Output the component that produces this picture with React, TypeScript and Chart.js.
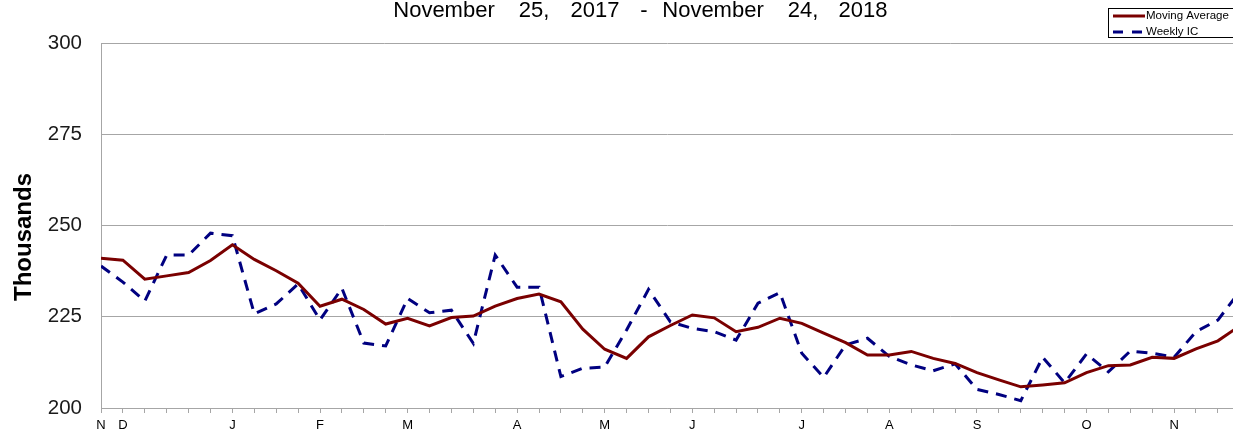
import React, { useEffect, useRef } from "react";
import { Chart, registerables } from "chart.js";

Chart.register(...registerables);

const titleWords = ["November", "25,", "2017", "-", "November", "24,", "2018"];
const yAxisTitle = "Thousands";
const seriesNames = ["Moving Average", "Weekly IC"];

// 53 weeks, Nov 25 2017 .. Nov 24 2018; month initials at the first week of each month
const weekLabels = [
  "N", "D", "", "", "", "", "J", "", "", "", "F", "", "", "", "M", "", "", "", "", "A",
  "", "", "", "M", "", "", "", "J", "", "", "", "", "J", "", "", "", "A", "", "", "",
  "S", "", "", "", "", "O", "", "", "", "N", "", "", "",
];

const movingAverage = [
  241.0, 240.5, 235.3, 236.2, 237.1, 240.4, 244.7, 240.7, 237.6, 234.2,
  227.9, 229.8, 227.0, 223.0, 224.6, 222.5, 224.8, 225.2, 227.9, 230.0,
  231.2, 229.1, 221.6, 216.1, 213.6, 219.5, 222.6, 225.5, 224.7, 220.9,
  222.1, 224.6, 223.2, 220.5, 217.9, 214.5, 214.5, 215.5, 213.6, 212.2,
  209.7, 207.7, 205.8, 206.3, 206.9, 209.7, 211.6, 211.8, 213.9, 213.6,
  216.2, 218.4, 222.5,
];

const weeklyIC = [
  238.9, 234.5, 229.3, 241.9, 241.9, 247.9, 247.2, 225.8, 228.5, 234.0,
  224.1, 232.8, 217.8, 217.0, 230.0, 226.1, 226.8, 217.7, 241.9, 233.1,
  233.1, 208.6, 210.9, 211.2, 221.4, 232.5, 223.6, 221.8, 220.9, 218.6,
  228.7, 231.6, 215.0, 208.4, 217.3, 219.1, 214.1, 211.8, 210.2, 212.1,
  205.1, 203.7, 202.0, 213.9, 206.9, 214.8, 209.9, 215.6, 215.0, 213.9,
  220.9, 224.1, 232.0,
];

const yMin = 200;
const yMax = 300;
const yStep = 25;

const W = 1233;
const H = 432;
const FONT = '"Liberation Sans", Arial, sans-serif';
const MA_COLOR = "#7a0000";
const IC_COLOR = "#000080";
const GRID = "#a6a6a6";
// horizontal centres of the title words (text layout)
const TITLE_X = [444, 534, 595, 644, 713, 803, 863];

const overlayPlugin = {
  id: "overlay",
  afterDraw(chart: any) {
    const ctx = chart.ctx as CanvasRenderingContext2D;
    ctx.save();
    ctx.font = `22px ${FONT}`;
    ctx.fillStyle = "#000";
    ctx.textBaseline = "alphabetic";
    ctx.textAlign = "center";
    titleWords.forEach((w, i) => ctx.fillText(w, TITLE_X[i], 17));

    ctx.save();
    ctx.translate(31, 237);
    ctx.rotate(-Math.PI / 2);
    ctx.font = `bold 24px ${FONT}`;
    ctx.textAlign = "center";
    ctx.textBaseline = "alphabetic";
    ctx.fillStyle = "#000";
    ctx.fillText(yAxisTitle, 0, 0);
    ctx.restore();

    ctx.fillStyle = "#fff";
    ctx.fillRect(1108.5, 8.5, 140, 29);
    ctx.strokeStyle = "#000";
    ctx.lineWidth = 1;
    ctx.strokeRect(1108.5, 8.5, 140, 29);
    ctx.lineWidth = 3;
    ctx.strokeStyle = MA_COLOR;
    ctx.beginPath();
    ctx.moveTo(1113, 16);
    ctx.lineTo(1145, 16);
    ctx.stroke();
    ctx.strokeStyle = IC_COLOR;
    ctx.setLineDash([10, 9]);
    ctx.beginPath();
    ctx.moveTo(1113, 32);
    ctx.lineTo(1145, 32);
    ctx.stroke();
    ctx.setLineDash([]);
    ctx.fillStyle = "#000";
    ctx.font = `11.5px ${FONT}`;
    ctx.textBaseline = "middle";
    ctx.textAlign = "left";
    ctx.fillText(seriesNames[0], 1146, 16);
    ctx.fillText(seriesNames[1], 1146, 32);
    ctx.restore();
  },
};

export default function App() {
  const ref = useRef<HTMLCanvasElement | null>(null);

  useEffect(() => {
    if (!ref.current) return;
    const xs = weekLabels.map((_, i) => i);
    const chart = new Chart(ref.current, {
      type: "line",
      data: {
        datasets: [
          {
            label: seriesNames[0],
            data: movingAverage.map((v, i) => ({ x: xs[i], y: v })),
            borderColor: MA_COLOR,
            borderWidth: 3,
            pointRadius: 0,
            tension: 0,
            fill: false,
          },
          {
            label: seriesNames[1],
            data: weeklyIC.map((v, i) => ({ x: xs[i], y: v })),
            borderColor: IC_COLOR,
            borderWidth: 3,
            borderDash: [11, 8],
            pointRadius: 0,
            tension: 0,
            fill: false,
          },
        ],
      },
      options: {
        animation: false,
        responsive: false,
        devicePixelRatio: 1,
        layout: { padding: { top: 43, left: 0, right: 0, bottom: 0 } },
        plugins: {
          legend: { display: false },
          title: { display: false },
          tooltip: { enabled: false },
        },
        scales: {
          x: {
            type: "linear",
            min: 0,
            max: (W - 101) / 21.9,
            afterBuildTicks: (scale: any) => {
              scale.ticks = xs.filter((i) => i <= scale.max).map((i) => ({ value: i }));
            },
            afterFit: (scale: any) => {
              scale.height = 24;
            },
            ticks: {
              autoSkip: false,
              maxRotation: 0,
              minRotation: 0,
              padding: 5,
              color: "#000",
              font: { family: FONT, size: 13 },
              callback: (v: any) => weekLabels[Math.round(Number(v))] ?? "",
            },
            grid: {
              drawOnChartArea: false,
              drawTicks: true,
              tickLength: 5,
              color: GRID,
            },
            border: { display: true, color: GRID },
          },
          y: {
            min: yMin,
            max: yMax,
            afterFit: (scale: any) => {
              scale.width = 101;
            },
            ticks: {
              stepSize: yStep,
              padding: 0,
              color: "#1a1a1a",
              font: { family: FONT, size: 20.5 },
            },
            grid: {
              color: GRID,
              drawTicks: true,
              tickLength: 19,
              tickColor: "rgba(0,0,0,0)",
            },
            border: { display: true, color: GRID },
          },
        },
      },
      plugins: [overlayPlugin],
    });
    return () => chart.destroy();
  }, []);

  return (
    <div style={{ position: "fixed", left: 0, top: 0, width: W, height: H, background: "#fff" }}>
      <canvas ref={ref} width={W} height={H} style={{ width: W, height: H, display: "block" }} />
    </div>
  );
}
